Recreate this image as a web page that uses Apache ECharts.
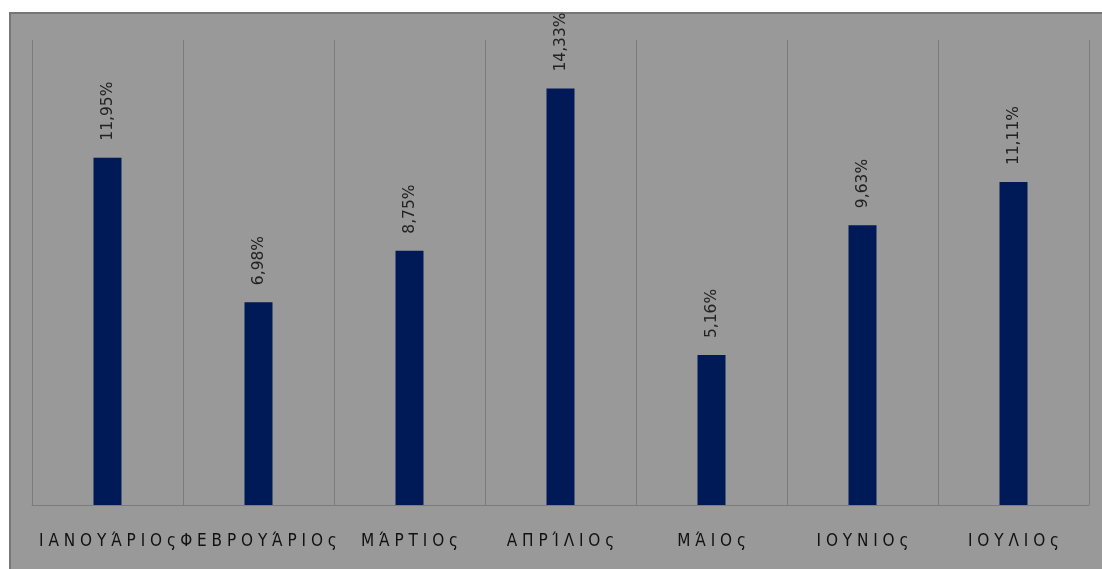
<!DOCTYPE html>
<html>
<head>
<meta charset="utf-8">
<script src="https://cdn.jsdelivr.net/npm/echarts@6/dist/echarts.min.js"></script>
<style>
  html, body { margin: 0; padding: 0; background: #ffffff; }
  #chart { width: 1102px; height: 569px; }
</style>
</head>
<body>
<div id="chart"></div>
<script>
// Monthly shares (%), January to July
const months = ['Ι Α Ν Ο Υ Ά Ρ Ι Ο ς', 'Φ Ε Β Ρ Ο Υ Ά Ρ Ι Ο ς', 'Μ Ά Ρ Τ Ι Ο ς', 'Α Π Ρ Ί Λ Ι Ο ς', 'Μ Ά Ι Ο ς', 'Ι Ο Υ Ν Ι Ο ς', 'Ι Ο Υ Λ Ι Ο ς'];
const shares = [11.95, 6.98, 8.75, 14.33, 5.16, 9.63, 11.11];

const chart = echarts.init(document.getElementById('chart'), null, { renderer: 'canvas' });

chart.setOption({
  backgroundColor: '#ffffff',
  animation: false,
  graphic: [{
    type: 'rect',
    z: -10,
    silent: true,
    shape: { x: 10, y: 13, width: 1100, height: 570 },
    style: { fill: '#999999', stroke: '#777777', lineWidth: 2 }
  }],
  grid: { left: 32, right: 13, top: 40, bottom: 64 },
  xAxis: {
    type: 'category',
    data: months,
    boundaryGap: true,
    axisLine: { show: true, lineStyle: { color: '#7c7c7c', width: 1 } },
    axisTick: { show: false },
    splitLine: { show: true, lineStyle: { color: '#7c7c7c', width: 1 } },
    axisLabel: {
      interval: 0,
      margin: 28,
      color: '#111111',
      fontFamily: '"DejaVu Sans Condensed", "Noto Sans", sans-serif',
      fontSize: 17
    }
  },
  yAxis: {
    type: 'value',
    min: 0,
    max: 16,
    show: false,
    splitLine: { show: false }
  },
  series: [{
    type: 'bar',
    data: shares,
    barWidth: 28,
    itemStyle: { color: '#001a57' },
    label: {
      show: true,
      position: 'top',
      rotate: 90,
      align: 'left',
      verticalAlign: 'middle',
      distance: 17,
      color: '#222222',
      fontFamily: 'DejaVu Sans',
      fontSize: 15.5,
      formatter: p => p.value.toFixed(2).replace('.', ',') + '%'
    }
  }]
});
</script>
</body>
</html>
